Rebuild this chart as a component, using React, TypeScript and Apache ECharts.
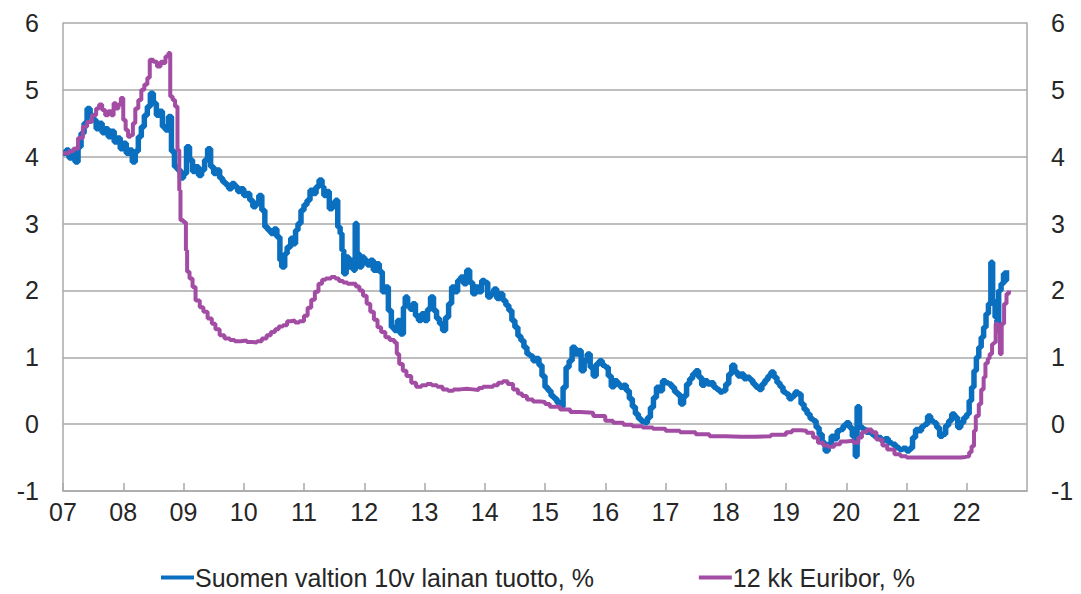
import React, { useEffect, useRef } from "react";
import * as echarts from "echarts";

// Finnish 10y government bond yield, % : [year, value]
const bondYield: [number, number][] = [
  [2007.0, 4.05], [2007.05, 4.1], [2007.1, 3.98], [2007.15, 4.05], [2007.2, 3.92], [2007.25, 4.15],
  [2007.3, 4.35], [2007.35, 4.5], [2007.4, 4.72], [2007.45, 4.62], [2007.5, 4.55], [2007.55, 4.42],
  [2007.6, 4.5], [2007.65, 4.36], [2007.7, 4.42], [2007.75, 4.3], [2007.8, 4.38], [2007.85, 4.22],
  [2007.9, 4.28], [2007.95, 4.12], [2008.0, 4.2], [2008.05, 4.05], [2008.1, 4.1], [2008.15, 3.92],
  [2008.2, 4.08], [2008.25, 4.3], [2008.3, 4.45], [2008.35, 4.62], [2008.4, 4.75], [2008.45, 4.95],
  [2008.5, 4.8], [2008.55, 4.62], [2008.6, 4.68], [2008.65, 4.45], [2008.7, 4.4], [2008.75, 4.6],
  [2008.8, 4.08], [2008.85, 3.85], [2008.9, 3.8], [2008.95, 3.68], [2009.0, 3.75], [2009.05, 4.15],
  [2009.1, 3.95], [2009.15, 3.78], [2009.2, 3.85], [2009.25, 3.72], [2009.3, 3.8], [2009.35, 3.95],
  [2009.4, 4.12], [2009.45, 3.85], [2009.5, 3.75], [2009.55, 3.8], [2009.6, 3.68], [2009.65, 3.62],
  [2009.7, 3.58], [2009.75, 3.52], [2009.8, 3.6], [2009.85, 3.55], [2009.9, 3.48], [2009.95, 3.52],
  [2010.0, 3.42], [2010.05, 3.45], [2010.1, 3.35], [2010.15, 3.25], [2010.2, 3.3], [2010.25, 3.42],
  [2010.3, 3.2], [2010.35, 2.95], [2010.4, 2.9], [2010.45, 2.85], [2010.5, 2.92], [2010.55, 2.8],
  [2010.6, 2.45], [2010.63, 2.35], [2010.68, 2.55], [2010.72, 2.65], [2010.78, 2.78], [2010.82, 2.7],
  [2010.86, 2.9], [2010.9, 3.0], [2010.95, 3.2], [2011.0, 3.28], [2011.05, 3.35], [2011.1, 3.5],
  [2011.15, 3.45], [2011.2, 3.55], [2011.25, 3.65], [2011.3, 3.55], [2011.33, 3.42], [2011.38, 3.48],
  [2011.42, 3.22], [2011.47, 3.3], [2011.52, 3.35], [2011.56, 2.95], [2011.6, 2.85], [2011.63, 2.6],
  [2011.66, 2.25], [2011.7, 2.5], [2011.74, 2.35], [2011.78, 2.45], [2011.82, 2.3], [2011.85, 3.0],
  [2011.88, 2.55], [2011.92, 2.35], [2011.96, 2.5], [2012.0, 2.45], [2012.05, 2.38], [2012.1, 2.45],
  [2012.15, 2.3], [2012.2, 2.4], [2012.25, 2.28], [2012.3, 1.98], [2012.35, 2.05], [2012.4, 1.7],
  [2012.45, 1.45], [2012.5, 1.4], [2012.55, 1.55], [2012.6, 1.35], [2012.65, 1.75], [2012.68, 1.9],
  [2012.72, 1.78], [2012.76, 1.72], [2012.8, 1.8], [2012.85, 1.62], [2012.9, 1.55], [2012.95, 1.65],
  [2013.0, 1.55], [2013.05, 1.72], [2013.1, 1.9], [2013.15, 1.7], [2013.2, 1.58], [2013.25, 1.5],
  [2013.3, 1.4], [2013.35, 1.6], [2013.4, 1.8], [2013.45, 2.05], [2013.5, 1.98], [2013.55, 2.15],
  [2013.6, 2.2], [2013.65, 2.1], [2013.7, 2.3], [2013.75, 2.12], [2013.8, 1.95], [2013.85, 2.05],
  [2013.9, 1.98], [2013.95, 2.15], [2014.0, 2.12], [2014.05, 1.9], [2014.1, 1.95], [2014.15, 2.02],
  [2014.2, 1.88], [2014.25, 1.95], [2014.3, 1.85], [2014.35, 1.78], [2014.4, 1.7], [2014.45, 1.55],
  [2014.5, 1.45], [2014.55, 1.32], [2014.6, 1.25], [2014.65, 1.15], [2014.7, 1.05], [2014.75, 1.02],
  [2014.8, 0.95], [2014.85, 0.98], [2014.9, 0.88], [2014.95, 0.72], [2015.0, 0.55], [2015.05, 0.5],
  [2015.1, 0.42], [2015.15, 0.38], [2015.2, 0.32], [2015.25, 0.26], [2015.3, 0.55], [2015.35, 0.85],
  [2015.4, 0.95], [2015.45, 1.15], [2015.5, 1.05], [2015.55, 1.1], [2015.6, 0.8], [2015.65, 0.95],
  [2015.7, 1.05], [2015.75, 0.85], [2015.8, 0.72], [2015.85, 0.9], [2015.9, 0.95], [2015.95, 0.88],
  [2016.0, 0.85], [2016.05, 0.72], [2016.1, 0.56], [2016.15, 0.65], [2016.2, 0.6], [2016.25, 0.55],
  [2016.3, 0.58], [2016.35, 0.5], [2016.4, 0.38], [2016.45, 0.26], [2016.5, 0.15], [2016.55, 0.08],
  [2016.6, 0.04], [2016.65, 0.02], [2016.7, 0.1], [2016.75, 0.25], [2016.8, 0.4], [2016.85, 0.55],
  [2016.9, 0.5], [2016.95, 0.65], [2017.0, 0.62], [2017.05, 0.6], [2017.1, 0.55], [2017.15, 0.48],
  [2017.2, 0.44], [2017.25, 0.3], [2017.3, 0.42], [2017.35, 0.6], [2017.4, 0.68], [2017.45, 0.75],
  [2017.5, 0.8], [2017.55, 0.7], [2017.6, 0.58], [2017.65, 0.65], [2017.7, 0.6], [2017.75, 0.62],
  [2017.8, 0.55], [2017.85, 0.52], [2017.9, 0.48], [2017.95, 0.5], [2018.0, 0.6], [2018.05, 0.75],
  [2018.1, 0.88], [2018.15, 0.78], [2018.2, 0.72], [2018.25, 0.75], [2018.3, 0.68], [2018.35, 0.7],
  [2018.4, 0.66], [2018.45, 0.6], [2018.5, 0.55], [2018.55, 0.52], [2018.6, 0.6], [2018.65, 0.66],
  [2018.7, 0.72], [2018.75, 0.78], [2018.8, 0.7], [2018.85, 0.62], [2018.9, 0.56], [2018.95, 0.48],
  [2019.0, 0.45], [2019.05, 0.38], [2019.1, 0.42], [2019.15, 0.48], [2019.2, 0.45], [2019.25, 0.3],
  [2019.3, 0.22], [2019.35, 0.15], [2019.4, 0.08], [2019.45, 0.05], [2019.5, -0.05], [2019.55, -0.15],
  [2019.6, -0.28], [2019.65, -0.4], [2019.7, -0.3], [2019.75, -0.18], [2019.8, -0.22], [2019.85, -0.1],
  [2019.9, -0.08], [2019.95, -0.02], [2020.0, 0.02], [2020.05, -0.05], [2020.1, -0.18], [2020.15, -0.48],
  [2020.18, 0.26], [2020.22, -0.05], [2020.28, -0.08], [2020.33, -0.12], [2020.38, -0.1], [2020.42, -0.15],
  [2020.46, -0.18], [2020.52, -0.2], [2020.58, -0.25], [2020.64, -0.22], [2020.7, -0.28], [2020.76, -0.3],
  [2020.82, -0.35], [2020.88, -0.38], [2020.94, -0.36], [2021.0, -0.4], [2021.05, -0.36], [2021.1, -0.2],
  [2021.15, -0.08], [2021.2, -0.1], [2021.25, -0.03], [2021.3, 0.0], [2021.35, 0.12], [2021.4, 0.05],
  [2021.45, 0.02], [2021.5, -0.05], [2021.55, -0.18], [2021.6, -0.15], [2021.65, -0.02], [2021.7, 0.05],
  [2021.75, 0.15], [2021.8, 0.1], [2021.85, -0.05], [2021.9, 0.02], [2021.95, 0.1], [2022.0, 0.15],
  [2022.04, 0.35], [2022.08, 0.55], [2022.12, 0.8], [2022.16, 1.0], [2022.2, 1.15], [2022.24, 1.3],
  [2022.28, 1.45], [2022.32, 1.65], [2022.36, 1.8], [2022.4, 2.42], [2022.43, 1.85], [2022.47, 1.6],
  [2022.5, 1.4], [2022.53, 2.0], [2022.57, 2.1], [2022.61, 2.25], [2022.63, 2.15], [2022.66, 2.3]
];

// 12-month Euribor, % : [year, value]
const euribor: [number, number][] = [
  [2007.0, 4.05], [2007.1, 4.08], [2007.17, 4.12], [2007.25, 4.28], [2007.33, 4.45], [2007.4, 4.52],
  [2007.48, 4.62], [2007.55, 4.72], [2007.6, 4.78], [2007.65, 4.7], [2007.7, 4.62], [2007.75, 4.68],
  [2007.8, 4.62], [2007.84, 4.8], [2007.88, 4.72], [2007.92, 4.78], [2007.96, 4.88], [2008.0, 4.55],
  [2008.04, 4.4], [2008.08, 4.3], [2008.12, 4.32], [2008.16, 4.5], [2008.2, 4.72], [2008.25, 4.85],
  [2008.3, 5.0], [2008.35, 5.08], [2008.4, 5.18], [2008.44, 5.45], [2008.5, 5.42], [2008.56, 5.35],
  [2008.62, 5.42], [2008.66, 5.4], [2008.7, 5.5], [2008.75, 5.55], [2008.78, 4.9], [2008.82, 4.85],
  [2008.86, 4.75], [2008.9, 4.1], [2008.93, 3.5], [2008.95, 3.05], [2009.0, 3.02], [2009.04, 2.6],
  [2009.06, 2.28], [2009.1, 2.18], [2009.15, 2.05], [2009.2, 1.85], [2009.27, 1.75], [2009.33, 1.68],
  [2009.4, 1.58], [2009.47, 1.5], [2009.53, 1.42], [2009.6, 1.33], [2009.68, 1.28], [2009.77, 1.26],
  [2009.85, 1.24], [2009.95, 1.25], [2010.05, 1.23], [2010.15, 1.22], [2010.22, 1.24], [2010.3, 1.28],
  [2010.38, 1.33], [2010.45, 1.38], [2010.52, 1.42], [2010.58, 1.46], [2010.65, 1.48], [2010.72, 1.54],
  [2010.78, 1.55], [2010.85, 1.52], [2010.92, 1.54], [2011.0, 1.62], [2011.06, 1.74], [2011.12, 1.86],
  [2011.18, 1.98], [2011.24, 2.1], [2011.3, 2.16], [2011.36, 2.18], [2011.45, 2.2], [2011.52, 2.18],
  [2011.58, 2.14], [2011.65, 2.12], [2011.72, 2.1], [2011.8, 2.1], [2011.86, 2.06], [2011.92, 2.0],
  [2011.98, 1.92], [2012.04, 1.8], [2012.1, 1.68], [2012.16, 1.56], [2012.22, 1.45], [2012.28, 1.38],
  [2012.35, 1.3], [2012.42, 1.26], [2012.5, 1.22], [2012.54, 1.05], [2012.58, 0.9], [2012.64, 0.8],
  [2012.7, 0.72], [2012.78, 0.62], [2012.86, 0.56], [2012.95, 0.58], [2013.04, 0.6], [2013.12, 0.58],
  [2013.21, 0.56], [2013.3, 0.52], [2013.39, 0.5], [2013.48, 0.52], [2013.59, 0.53], [2013.7, 0.52],
  [2013.8, 0.51], [2013.9, 0.54], [2013.97, 0.56], [2014.06, 0.56], [2014.14, 0.58], [2014.22, 0.62],
  [2014.3, 0.64], [2014.38, 0.6], [2014.47, 0.52], [2014.55, 0.46], [2014.62, 0.42], [2014.7, 0.37],
  [2014.8, 0.34], [2014.92, 0.33], [2015.0, 0.3], [2015.08, 0.26], [2015.25, 0.22], [2015.42, 0.18],
  [2015.59, 0.17], [2015.8, 0.12], [2016.0, 0.05], [2016.13, 0.02], [2016.3, -0.01], [2016.45, -0.03],
  [2016.62, -0.05], [2016.79, -0.07], [2017.0, -0.1], [2017.24, -0.12], [2017.5, -0.15], [2017.73, -0.18],
  [2018.0, -0.19], [2018.25, -0.19], [2018.5, -0.18], [2018.75, -0.16], [2019.0, -0.12], [2019.1, -0.09],
  [2019.25, -0.1], [2019.34, -0.13], [2019.45, -0.2], [2019.53, -0.28], [2019.62, -0.32], [2019.7, -0.34],
  [2019.8, -0.3], [2019.9, -0.26], [2020.0, -0.25], [2020.12, -0.28], [2020.2, -0.2], [2020.26, -0.12],
  [2020.34, -0.08], [2020.42, -0.12], [2020.5, -0.23], [2020.6, -0.32], [2020.68, -0.38], [2020.8, -0.45],
  [2020.9, -0.48], [2021.0, -0.5], [2021.2, -0.5], [2021.44, -0.5], [2021.6, -0.5], [2021.77, -0.5],
  [2021.9, -0.49], [2021.98, -0.48], [2022.04, -0.42], [2022.08, -0.33], [2022.12, -0.1], [2022.15, 0.12],
  [2022.2, 0.3], [2022.24, 0.52], [2022.28, 0.7], [2022.31, 0.91], [2022.35, 0.98], [2022.38, 1.05],
  [2022.42, 1.2], [2022.45, 1.22], [2022.48, 1.5], [2022.52, 1.4], [2022.55, 1.05], [2022.58, 1.5],
  [2022.62, 1.8], [2022.66, 1.95], [2022.7, 2.0]
];

const seriesNames = ["Suomen valtion 10v lainan tuotto, %", "12 kk Euribor, %"];
const yMin = -1;
const yMax = 6;
const xMin = 2007;
const xMax = 2023;

const FONT = "'Liberation Sans', Arial, sans-serif";
const BLUE = "#0b6fbf";
const PURPLE = "#a24ca3";
const GRID = "#a9a9a9";
const TEXT = "#262626";

export default function App() {
  const ref = useRef<HTMLDivElement>(null);
  useEffect(() => {
    if (!ref.current) return;
    const chart = echarts.init(ref.current, undefined, { renderer: "svg" });
    const yAxisBase = {
      type: "value" as const,
      min: yMin,
      max: yMax,
      interval: 1,
      axisLine: { show: true, lineStyle: { color: GRID, width: 1.5 } },
      axisTick: { show: false },
      splitLine: { show: true, lineStyle: { color: GRID, width: 1.5 } },
      axisLabel: { color: TEXT, fontSize: 25, fontFamily: FONT, margin: 24 },
    };
    chart.setOption({
      animation: false,
      backgroundColor: "#ffffff",
      textStyle: { fontFamily: FONT },
      grid: { left: 63, right: 54, top: 23, bottom: 103, containLabel: false },
      legend: {
        left: 156,
        top: 560,
        itemWidth: 33,
        itemHeight: 4,
        itemGap: 105,
        icon: "rect",
        textStyle: { color: TEXT, fontSize: 25, fontFamily: FONT, padding: [0, 0, 0, -4] },
        data: seriesNames,
      },
      xAxis: {
        type: "value",
        min: xMin,
        max: xMax,
        interval: 1,
        axisLine: { show: true, onZero: false, lineStyle: { color: GRID, width: 1.5 } },
        axisTick: { show: true, inside: true, length: 8, lineStyle: { color: GRID, width: 1.5 } },
        splitLine: { show: false },
        axisLabel: {
          color: TEXT,
          fontSize: 25,
          fontFamily: FONT,
          margin: 8,
          showMaxLabel: false,
          formatter: (v: number) => (v >= xMax ? "" : String(v % 100).padStart(2, "0")),
        },
      },
      yAxis: [
        { ...yAxisBase, position: "left" },
        { ...yAxisBase, position: "right", splitLine: { show: false } },
      ],
      series: [
        {
          name: seriesNames[0],
          type: "line",
          data: bondYield,
          showSymbol: false,
          symbol: "none",
          step: "end",
          lineStyle: { color: BLUE, width: 5.5 },
          itemStyle: { color: BLUE },
          z: 2,
        },
        {
          name: seriesNames[1],
          type: "line",
          data: euribor,
          showSymbol: false,
          symbol: "none",
          step: "end",
          lineStyle: { color: PURPLE, width: 4 },
          itemStyle: { color: PURPLE },
          z: 3,
        },
      ],
    });
    return () => chart.dispose();
  }, []);
  return (
    <div
      ref={ref}
      style={{ position: "fixed", left: 0, top: 0, width: 1081, height: 594, background: "#fff" }}
    />
  );
}
